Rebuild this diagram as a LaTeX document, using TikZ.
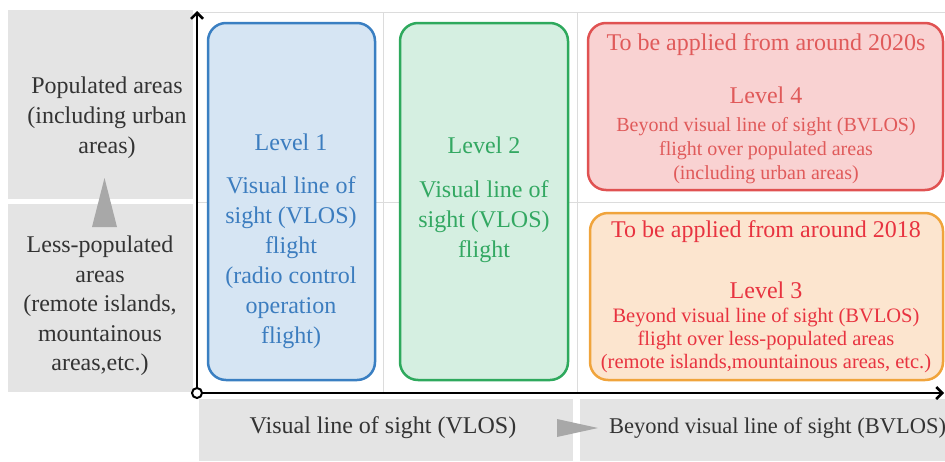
\documentclass[tikz,border=0pt]{standalone}
\usepackage{fontspec}
\setmainfont{Liberation Serif}
\usetikzlibrary{arrows.meta}
\definecolor{gpanel}{HTML}{E4E4E4}
\definecolor{gridc}{HTML}{DCDCDC}
\definecolor{tric}{HTML}{A8A8A8}
\definecolor{labc}{HTML}{333333}
\definecolor{bAfill}{HTML}{D6E5F3}
\definecolor{bAdraw}{HTML}{3A7FC2}
\definecolor{bAtext}{HTML}{3C7DBF}
\definecolor{bBfill}{HTML}{D5EFE1}
\definecolor{bBdraw}{HTML}{2EA95D}
\definecolor{bBtext}{HTML}{33A862}
\definecolor{bDfill}{HTML}{F9D2D2}
\definecolor{bDdraw}{HTML}{E05252}
\definecolor{bDtext}{HTML}{E05A5A}
\definecolor{bCfill}{HTML}{FCE5CF}
\definecolor{bCdraw}{HTML}{F0A43C}
\definecolor{bCtext}{HTML}{E83340}
\newcommand\myfs[2]{\fontsize{#1}{#2}\selectfont}
\begin{document}
\begin{tikzpicture}[x=1pt,y=-1pt,
  panel/.style={fill=gpanel,draw=none},
  gridline/.style={draw=gridc,line width=1pt},
  lvbox/.style={rectangle,rounded corners=18pt,line width=2.5pt,inner sep=0pt},
  big/.style={font=\myfs{24}{30},align=center,inner sep=0pt},
  small/.style={font=\myfs{20}{24},align=center,inner sep=0pt},
  axisline/.style={line width=2.5pt,black,-{Straight Barb[length=6pt,width=12pt,line width=2.5pt]}},
  tri/.style={fill=tric,draw=none}
]
\useasboundingbox (0,0) rectangle (945,461);
% gray panels
\fill[panel] (8,10) rectangle (193,199);
\fill[panel] (8,204) rectangle (193,392);
\fill[panel] (199,399) rectangle (573,461);
\fill[panel] (580,399) rectangle (945,461);
% grid
\draw[gridline] (197,12) -- (945,12);
\draw[gridline] (197,202) -- (945,202);
\draw[gridline] (383,12) -- (383,393);
\draw[gridline] (577,12) -- (577,393);
% boxes
\node[lvbox,draw=bAdraw,fill=bAfill,minimum width=167pt,minimum height=357pt] (b1) at (291.5,201.5) {};
\node[lvbox,draw=bBdraw,fill=bBfill,minimum width=168pt,minimum height=357pt] (b2) at (484,201.5) {};
\node[lvbox,draw=bDdraw,fill=bDfill,minimum width=355pt,minimum height=167pt] (b4) at (765.5,106.5) {};
\node[lvbox,draw=bCdraw,fill=bCfill,minimum width=353pt,minimum height=167pt] (b3) at (766.5,296.5) {};
% level 1 text
\node[big,text=bAtext] (l1t) at (291,142) {Level 1};
\node[big,text=bAtext] (l1d) at (291,263) {Visual line of\\sight (VLOS)\\flight\\(radio control\\operation\\flight)};
% level 2 text
\node[big,text=bBtext] (l2t) at (484,145) {Level 2};
\node[big,text=bBtext] (l2d) at (484,222) {Visual line of\\sight (VLOS)\\flight};
% level 4 text
\node[big,text=bDtext] (l4h) at (766,45) {To be applied from around 2020s};
\node[big,text=bDtext] (l4t) at (766,95) {Level 4};
\node[small,text=bDtext] (l4d) at (766,151) {Beyond visual line of sight (BVLOS)\\flight over populated areas\\(including urban areas)};
% level 3 text
\node[big,text=bCtext] (l3h) at (766,232) {To be applied from around 2018};
\node[big,text=bCtext] (l3t) at (766,290) {Level 3};
\node[small,font=\myfs{20.5}{23},text=bCtext] (l3d) at (766,340) {Beyond visual line of sight (BVLOS)\\flight over less-populated areas\\(remote islands,mountainous areas, etc.)};
% left labels
\node[big,text=labc] (pop) at (107,118) {Populated areas\\(including urban\\areas)};
\node[big,font=\myfs{24}{29.5},text=labc] (lesspop) at (100,306) {Less-populated\\areas\\(remote islands,\\mountainous\\areas,etc.)};
\fill[tri] (92,227) -- (104.5,178) -- (117,227) -- cycle;
% bottom labels
\node[big,text=labc] (vlos) at (383,428) {Visual line of sight (VLOS)};
\node[big,font=\myfs{22.5}{27},text=labc,anchor=west] (bvlos) at (609,428) {Beyond visual line of sight (BVLOS)};
\fill[tri] (557,419) -- (598,428) -- (557,437) -- cycle;
% axes
\coordinate (O) at (197,393);
\coordinate (ytop) at (197,11);
\coordinate (xend) at (944,393);
\draw[axisline] (O) -- (ytop);
\draw[axisline] (O) -- (xend);
\node[circle,draw=black,fill=white,line width=2pt,minimum size=10pt,inner sep=0pt] (origin) at (O) {};
\end{tikzpicture}
\end{document}
